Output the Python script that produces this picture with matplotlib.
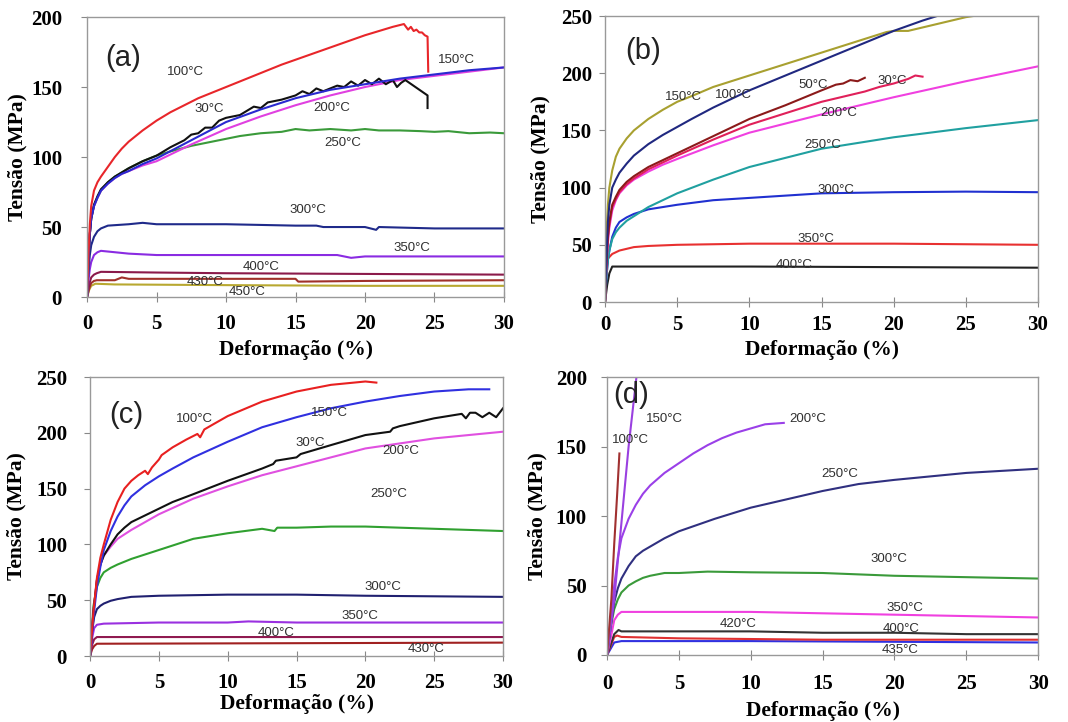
import matplotlib
matplotlib.use('Agg')
import matplotlib.pyplot as plt

# ---------------- data (strain %, stress MPa) ----------------
STRAIN_TICKS = [0, 5, 10, 15, 20, 25, 30]
A_YTICKS = [0, 50, 100, 150, 200]
B_YTICKS = [0, 50, 100, 150, 200, 250]
C_YTICKS = [0, 50, 100, 150, 200, 250]
D_YTICKS = [0, 50, 100, 150, 200]

# Panel (a)
a100_x = [0, 0.1, 0.2, 0.3, 0.5, 0.75, 1, 1.5, 2, 2.5, 3, 3.5, 4, 5, 6, 7, 8, 9, 10, 12, 14, 16, 18, 20, 22, 22.8, 23.1, 23.3, 23.5, 23.7, 23.9, 24.1, 24.3, 24.5, 24.55]
a100_y = [0, 30, 52, 65, 76, 82, 86, 93, 100, 106, 111, 115, 119, 126, 132, 137, 142, 146, 150, 158, 166, 173, 180, 187, 193, 195, 191, 193, 190, 191, 189, 189, 187, 186, 161]
a30_x = [0, 0.1, 0.2, 0.3, 0.5, 0.75, 1, 1.5, 2, 2.5, 3, 4, 5, 6, 7, 7.5, 8, 8.5, 9, 9.5, 10, 11, 12, 12.5, 13, 14, 15, 15.5, 16, 16.5, 17, 18, 18.5, 19, 19.5, 20, 20.5, 21, 21.5, 22, 22.3, 22.6, 22.9, 24.5, 24.5]
a30_y = [0, 25, 45, 56, 66, 72, 77, 82, 86, 89, 92, 97, 101, 107, 112, 116, 117, 121, 121, 126, 128, 130, 136, 135, 139, 141, 144, 147, 145, 149, 147, 151, 150, 154, 151, 155, 152, 156, 152, 155, 150, 153, 155, 144, 135]
a150_x = [0, 0.1, 0.2, 0.3, 0.5, 0.75, 1, 1.5, 2, 2.5, 3, 4, 5, 7.5, 10, 12.5, 15, 17.5, 20, 22.5, 25, 27.5, 30]
a150_y = [0, 25, 45, 56, 65, 71, 76, 81, 85, 88, 90, 95, 99, 112, 125, 134, 142, 148, 152, 156, 159, 162, 164]
a200_x = [0, 0.1, 0.2, 0.3, 0.5, 0.75, 1, 1.5, 2, 2.5, 3, 4, 5, 7.5, 10, 12.5, 15, 17.5, 20, 22.5, 25, 27.5, 30]
a200_y = [0, 25, 45, 56, 65, 71, 76, 81, 85, 88, 90, 94, 97, 109, 120, 129, 137, 144, 150, 155, 158, 161, 164]
a250_x = [0, 0.1, 0.2, 0.3, 0.5, 0.75, 1, 1.5, 2, 2.5, 3, 4, 5, 6, 7.5, 9, 10, 11, 12.5, 14, 15, 16, 17.5, 19, 20, 21, 22.5, 24, 25, 26, 27.5, 29, 30]
a250_y = [0, 25, 45, 56, 65, 71, 76, 82, 86, 89, 92, 97, 101, 104, 108, 111, 113, 115, 117, 118, 120, 119, 120, 119, 120, 119, 119, 118.5, 118, 118.5, 117, 117.5, 117]
a300_x = [0, 0.1, 0.2, 0.3, 0.5, 0.75, 1, 1.5, 3, 4, 5, 10, 15, 16.5, 17, 20, 20.8, 21, 25, 30]
a300_y = [0, 18, 30, 37, 43, 47, 49, 51, 52, 53, 52, 52, 51, 51, 50, 50, 48, 50, 49, 49]
a350_x = [0, 0.1, 0.2, 0.3, 0.5, 0.75, 1, 2, 3, 5, 10, 15, 18, 19, 20, 25, 30]
a350_y = [0, 12, 20, 25, 30, 32, 33, 32, 31, 30, 30, 30, 30, 28, 29, 29, 29]
a400_x = [0, 0.15, 0.3, 0.5, 0.7, 1, 5, 10, 20, 30]
a400_y = [0, 9, 14, 16, 17, 18, 17.5, 17, 16.5, 16]
a430_x = [0, 0.15, 0.3, 0.5, 0.7, 2, 2.5, 3, 5, 15, 15.2, 20, 30]
a430_y = [0, 6, 10, 11.5, 12, 12, 14, 13, 13, 13, 11, 11.5, 12]
a450_x = [0, 0.15, 0.3, 0.6, 2, 10, 20, 30]
a450_y = [0, 5, 8, 9.5, 9, 8.5, 8, 8]

# Panel (b)
b150_x = [0, 0.1, 0.2, 0.3, 0.5, 0.75, 1, 1.5, 2, 2.5, 3, 4, 5, 6, 7.5, 10, 12.5, 15, 17.5, 19.5, 20, 21, 22, 23, 24, 25, 26]
b150_y = [0, 60, 85, 100, 115, 127, 134, 143, 150, 155, 160, 168, 175, 180, 188, 198, 208, 218, 228, 236, 237, 237, 240, 243, 246, 249, 251]
b100_x = [0, 0.1, 0.2, 0.3, 0.5, 0.75, 1, 1.5, 2, 2.5, 3, 4, 5, 6, 7.5, 10, 12.5, 15, 17.5, 20, 22, 23, 23.5]
b100_y = [0, 40, 70, 85, 100, 107, 113, 121, 128, 133, 138, 146, 153, 160, 170, 185, 198, 211, 224, 237, 246, 250, 253]
b50_x = [0, 0.1, 0.2, 0.3, 0.5, 0.75, 1, 1.5, 2, 2.5, 3, 4, 5, 7.5, 10, 12.5, 15, 16, 16.5, 17, 17.5, 18]
b50_y = [0, 35, 58, 70, 85, 92, 98, 105, 110, 114, 118, 124, 130, 145, 160, 172, 185, 190, 191, 194, 193, 196]
b30_x = [0, 0.1, 0.2, 0.3, 0.5, 0.75, 1, 1.5, 2, 2.5, 3, 4, 5, 7.5, 10, 12.5, 15, 17, 18, 19, 20, 21, 21.5, 22]
b30_y = [0, 35, 56, 68, 83, 90, 96, 103, 108, 112, 116, 122, 128, 142, 155, 165, 175, 181, 184, 188, 191, 195, 198, 197]
b200_x = [0, 0.1, 0.2, 0.3, 0.5, 0.75, 1, 1.5, 2, 3, 4, 5, 7.5, 10, 15, 20, 25, 30]
b200_y = [0, 32, 52, 65, 80, 89, 95, 102, 107, 114, 120, 125, 137, 148, 164, 179, 193, 206]
b250_x = [0, 0.1, 0.2, 0.3, 0.5, 0.75, 1, 1.5, 2, 3, 4, 5, 7.5, 10, 15, 20, 25, 30]
b250_y = [0, 22, 37, 45, 55, 61, 65, 71, 75, 83, 89, 95, 107, 118, 134, 144, 152, 159]
b300_x = [0, 0.1, 0.2, 0.3, 0.5, 0.75, 1, 1.5, 2, 3, 5, 7.5, 10, 15, 20, 25, 30]
b300_y = [0, 22, 37, 45, 57, 65, 70, 74, 77, 81, 85, 89, 91, 95, 96, 96.5, 96]
b350_x = [0, 0.1, 0.2, 0.5, 1, 2, 3, 5, 10, 20, 30]
b350_y = [0, 28, 38, 42, 45, 48, 49, 50, 51, 51, 50]
b400_x = [0, 0.15, 0.3, 0.5, 1, 10, 20, 30]
b400_y = [0, 15, 25, 31, 31, 31, 30.5, 30]

# Panel (c)
c100_x = [0, 0.25, 0.5, 0.75, 1, 1.5, 2, 2.5, 3, 3.5, 4, 4.2, 4.5, 5, 5.2, 6, 7, 7.8, 8, 8.3, 9, 10, 12.5, 15, 17.5, 20, 20.8]
c100_y = [0, 40, 70, 88, 100, 122, 138, 150, 157, 162, 166, 163, 169, 176, 180, 187, 194, 199, 196, 203, 208, 215, 228, 237, 243, 246, 245]
c150_x = [0, 0.25, 0.5, 0.75, 1, 1.5, 2, 2.5, 3, 4, 5, 6, 7.5, 10, 12.5, 15, 17.5, 20, 22.5, 25, 27.5, 29]
c150_y = [0, 35, 62, 80, 95, 112, 125, 135, 143, 153, 161, 168, 178, 192, 205, 214, 222, 228, 233, 237, 239, 239]
c30_x = [0, 0.25, 0.5, 0.75, 1, 1.5, 2, 2.5, 3, 4, 5, 6, 7.5, 10, 12.5, 13.3, 13.5, 15, 15.3, 17.5, 20, 21.8, 22, 22.5, 25, 27, 27.3, 27.6, 28, 28.5, 29, 29.5, 30]
c30_y = [0, 40, 68, 82, 90, 100, 109, 115, 120, 126, 132, 138, 145, 157, 168, 172, 175, 178, 181, 189, 198, 201, 204, 206, 213, 217, 213, 218, 218, 214, 218, 214, 222]
c200_x = [0, 0.25, 0.5, 0.75, 1, 1.5, 2, 3, 4, 5, 7.5, 10, 12.5, 15, 20, 25, 30]
c200_y = [0, 40, 68, 82, 90, 98, 105, 113, 120, 127, 141, 152, 162, 170, 186, 195, 201]
c250_x = [0, 0.25, 0.5, 0.75, 1, 1.5, 2, 3, 4, 5, 6, 7.5, 10, 12.5, 13.4, 13.6, 15, 17.5, 20, 25, 30]
c250_y = [0, 45, 62, 70, 75, 79, 82, 87, 91, 95, 99, 105, 110, 114, 112, 115, 115, 116, 116, 114, 112]
c300_x = [0, 0.15, 0.3, 0.5, 0.75, 1, 1.5, 2, 3, 5, 10, 15, 20, 30]
c300_y = [0, 22, 35, 42, 45, 47, 49.5, 51, 53, 54, 55, 55, 54, 53]
c350_x = [0, 0.15, 0.3, 0.5, 1, 5, 10, 11.5, 15, 30]
c350_y = [0, 16, 25, 28, 29, 30, 30, 31, 30, 30]
c400_x = [0, 0.15, 0.3, 0.5, 30]
c400_y = [0, 10, 15, 17, 17]
c430_x = [0, 0.15, 0.3, 0.5, 30]
c430_y = [0, 6, 9, 11, 12]

# Panel (d)
d100_x = [0, 0.3, 0.5, 0.7, 0.86]
d100_y = [0, 40, 80, 115, 145]
d150_x = [0, 0.5, 1, 1.5, 2.1]
d150_y = [0, 40, 95, 150, 205]
d200_x = [0, 0.25, 0.5, 0.75, 1, 1.5, 2, 2.5, 3, 4, 5, 6, 7, 8, 9, 10, 11, 12.3]
d200_y = [0, 25, 50, 70, 84, 98, 108, 116, 122, 131, 138, 145, 151, 156, 160, 163, 166, 167]
d250_x = [0, 0.25, 0.5, 0.75, 1, 1.5, 2, 2.5, 3, 4, 5, 7.5, 10, 12.5, 15, 17.5, 20, 25, 30]
d250_y = [0, 20, 38, 48, 55, 64, 71, 75, 78, 84, 89, 98, 106, 112, 118, 123, 126, 131, 134]
d300_x = [0, 0.25, 0.5, 0.75, 1, 1.5, 2, 2.5, 3, 4, 5, 7, 10, 15, 20, 25, 30]
d300_y = [0, 20, 33, 40, 45, 50, 53, 55.5, 57, 59, 59, 60, 59.5, 59, 57, 56, 55]
d350_x = [0, 0.25, 0.5, 0.75, 1, 2, 5, 10, 15, 20, 25, 30]
d350_y = [0, 12, 25, 29, 31, 31, 31, 31, 30, 29, 28, 27]
d420_x = [0, 0.5, 0.8, 1, 5, 10, 15, 20, 25, 30]
d420_y = [0, 15, 18, 17, 17, 17, 16, 16, 15, 15]
d400_x = [0, 0.5, 0.7, 1, 5, 15, 30]
d400_y = [0, 13, 14, 13, 12, 11, 11]
d435_x = [0, 0.5, 1, 5, 10, 20, 30]
d435_y = [0, 9, 10, 10, 10, 9.5, 9]

# ---------------- drawing ----------------
SERIF = 'Liberation Serif'
SANS = 'Liberation Sans'
LBL_COLOR = '#303030'

fig = plt.figure(figsize=(10.68, 7.22), dpi=100)


def make_axes(rect, yticks, ymax, ypad, xpad, ylab_x, xlab_y):
    ax = fig.add_axes(rect)
    ax.set_xlim(0, 30)
    ax.set_ylim(0, ymax)
    ax.set_xticks(STRAIN_TICKS)
    ax.set_yticks(yticks)
    ax.set_xticklabels([str(t) for t in STRAIN_TICKS], fontfamily=SERIF, fontweight='bold', fontsize=15)
    ax.set_yticklabels([str(t) for t in yticks], fontfamily=SERIF, fontweight='bold', fontsize=15)
    for s in ax.spines.values():
        s.set_color('#999999')
        s.set_linewidth(1.0)
    ax.tick_params(axis='x', direction='inout', length=7, color='#888888', pad=xpad)
    ax.tick_params(axis='y', direction='out', length=4, color='#888888', pad=ypad)
    ax.set_xlabel('Deformação (%)', fontfamily=SERIF, fontweight='bold', fontsize=15.5)
    ax.set_ylabel('Tensão (MPa)', fontfamily=SERIF, fontweight='bold', fontsize=15.5)
    ax.xaxis.set_label_coords(0.5, xlab_y)
    ax.yaxis.set_label_coords(ylab_x, 0.5)
    ax.xaxis.label.set_verticalalignment('center')
    ax.yaxis.label.set_verticalalignment('center')
    return ax


def curve(ax, x, y, color, lw=1.5):
    ax.plot(x, y, color=color, lw=lw, solid_joinstyle='round')


def label(ax, x, y, txt, size=9.5):
    ax.text(x, y, txt, fontfamily=SANS, fontsize=size, color=LBL_COLOR, ha='center', va='center')


def panel(ax, x, y, txt):
    ax.text(x, y, txt, fontfamily=SANS, fontsize=21, color='#222222', ha='left', va='center')


# (a)
ax = make_axes([0.0815, 0.5886, 0.3904, 0.3878], A_YTICKS, 200, 14, 8.5, -0.168, -0.189)
curve(ax, a450_x, a450_y, '#b8a830')
curve(ax, a430_x, a430_y, '#a0302a')
curve(ax, a400_x, a400_y, '#8b1a4a')
curve(ax, a350_x, a350_y, '#8a2be2')
curve(ax, a300_x, a300_y, '#1f2a8a')
curve(ax, a250_x, a250_y, '#3a9a3a')
curve(ax, a200_x, a200_y, '#e040e0')
curve(ax, a30_x, a30_y, '#111111')
curve(ax, a150_x, a150_y, '#2a2ad0')
curve(ax, a100_x, a100_y, '#e8262a')
panel(ax, 1.3, 171, '(a)')
label(ax, 7.1, 161, '100°C')
label(ax, 26.6, 169, '150°C')
label(ax, 8.8, 134, '30°C')
label(ax, 17.6, 135, '200°C')
label(ax, 18.4, 110, '250°C')
label(ax, 15.9, 62.5, '300°C')
label(ax, 23.4, 35, '350°C')
label(ax, 12.5, 21.5, '400°C')
label(ax, 8.5, 10.7, '430°C')
label(ax, 11.5, 3.6, '450°C')

# (b)
ax = make_axes([0.5665, 0.5817, 0.4054, 0.3961], B_YTICKS, 250, 5.5, 6, -0.150, -0.168)
curve(ax, b400_x, b400_y, '#222222')
curve(ax, b350_x, b350_y, '#e83030')
curve(ax, b300_x, b300_y, '#2030d0')
curve(ax, b250_x, b250_y, '#20a0a0')
curve(ax, b200_x, b200_y, '#f040e0')
curve(ax, b30_x, b30_y, '#e0205a')
curve(ax, b50_x, b50_y, '#8b1a1a')
curve(ax, b150_x, b150_y, '#a8a030')
curve(ax, b100_x, b100_y, '#202880')
panel(ax, 1.4, 219, '(b)')
label(ax, 5.4, 179, '150°C')
label(ax, 8.9, 181, '100°C')
label(ax, 14.4, 190, '50°C')
label(ax, 19.9, 193, '30°C')
label(ax, 16.2, 165, '200°C')
label(ax, 15.1, 137, '250°C')
label(ax, 16.0, 98, '300°C')
label(ax, 14.6, 55, '350°C')
label(ax, 13.1, 32, '400°C')

# (c)
ax = make_axes([0.0843, 0.0914, 0.3867, 0.3864], C_YTICKS, 250, 12.5, 9, -0.177, -0.172)
curve(ax, c430_x, c430_y, '#a02020')
curve(ax, c400_x, c400_y, '#901a50')
curve(ax, c350_x, c350_y, '#9a30e0')
curve(ax, c300_x, c300_y, '#202070')
curve(ax, c250_x, c250_y, '#30a030')
curve(ax, c200_x, c200_y, '#e050e0')
curve(ax, c30_x, c30_y, '#111111')
curve(ax, c150_x, c150_y, '#3030e0')
curve(ax, c100_x, c100_y, '#e82020')
panel(ax, 1.4, 216, '(c)')
label(ax, 7.6, 212.7, '100°C')
label(ax, 17.4, 218, '150°C')
label(ax, 16.0, 191, '30°C')
label(ax, 22.6, 184, '200°C')
label(ax, 21.7, 145, '250°C')
label(ax, 21.3, 62, '300°C')
label(ax, 19.6, 36, '350°C')
label(ax, 13.5, 21, '400°C')
label(ax, 24.4, 6, '430°C')

# (d)
ax = make_axes([0.5684, 0.0928, 0.4036, 0.3850], D_YTICKS, 200, 10.5, 10, -0.162, -0.201)
curve(ax, d435_x, d435_y, '#3030e0')
curve(ax, d400_x, d400_y, '#e03030')
curve(ax, d420_x, d420_y, '#333333')
curve(ax, d350_x, d350_y, '#f040e0')
curve(ax, d300_x, d300_y, '#3a9a3a')
curve(ax, d250_x, d250_y, '#303080')
curve(ax, d200_x, d200_y, '#9a40e8')
curve(ax, d150_x, d150_y, '#9a40e0')
curve(ax, d100_x, d100_y, '#a03030')
panel(ax, 0.4, 187, '(d)')
label(ax, 4.0, 169.6, '150°C')
label(ax, 1.6, 154.5, '100°C')
label(ax, 14.0, 169.6, '200°C')
label(ax, 16.2, 130, '250°C')
label(ax, 19.6, 69, '300°C')
label(ax, 20.7, 33.8, '350°C')
label(ax, 9.1, 22.3, '420°C')
label(ax, 20.5, 18.7, '400°C')
label(ax, 20.4, 3.6, '435°C')

fig.savefig('out.png', dpi=100)
